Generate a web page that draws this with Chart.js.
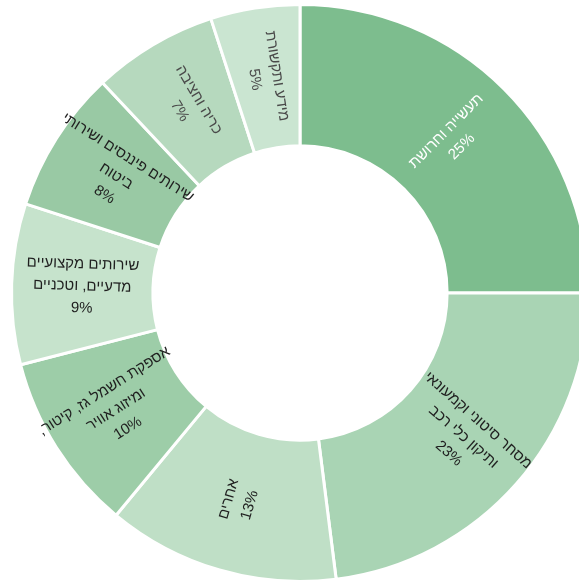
<!DOCTYPE html>
<html lang="he">
<head>
<meta charset="utf-8">
<script src="https://cdn.jsdelivr.net/npm/chart.js@4/dist/chart.umd.min.js"></script>
<style>
  html, body { margin: 0; padding: 0; background: #fff; overflow: hidden; }
  #wrap { width: 579px; height: 583px; overflow: hidden; position: relative; }
  canvas { display: block; }
</style>
</head>
<body>
<div id="wrap"><canvas id="chart-sectors" width="600" height="586"></canvas></div>
<script>
// Sector names, each split into the lines printed on the ring
const sectorLines = [
  ['תעשייה וחרושת'],
  ['מסחר סיטוני וקמעונאי', 'ותיקון כלי רכב'],
  ['אחרים'],
  ['אספקת חשמל גז, קיטור,', 'ומיזוג אוויר'],
  ['שירותים מקצועיים', 'מדעיים, וטכניים'],
  ['שירותים פיננסים ושירותי', 'ביטוח'],
  ['כריה וחציבה'],
  ['מידע ותקשורת'],
];
const sectorShare = [25, 23, 13, 10, 9, 8, 7, 5];
const sectorColors = ['#7dbd8e', '#a9d4b4', '#bfdfc6', '#9dcda8', '#c6e3cc', '#99c9a4', '#b6d9be', '#cae5d1'];
const labelColors = ['#ffffff', '#1f1f1f', '#1f1f1f', '#1f1f1f', '#1f1f1f', '#1f1f1f', '#4a4a4a', '#4a4a4a'];

const FONT = "15px 'Liberation Sans', Arial, 'DejaVu Sans', sans-serif";
const LINE_H = 22;

// Labels sit at mid-ring, rotated along the radius and kept upright
const radialLabels = {
  id: 'radialLabels',
  afterDatasetsDraw(chart) {
    const { ctx } = chart;
    const meta = chart.getDatasetMeta(0);
    meta.data.forEach((arc, i) => {
      const { x, y, startAngle, endAngle, innerRadius, outerRadius } = arc.getProps(
        ['x', 'y', 'startAngle', 'endAngle', 'innerRadius', 'outerRadius'], true);
      const mid = (startAngle + endAngle) / 2;
      const r = (innerRadius + outerRadius) / 2;
      const px = x + Math.cos(mid) * r;
      const py = y + Math.sin(mid) * r;
      let rot = mid;
      while (rot > Math.PI) rot -= 2 * Math.PI;
      while (rot < -Math.PI) rot += 2 * Math.PI;
      if (rot > Math.PI / 2) rot -= Math.PI;
      if (rot < -Math.PI / 2) rot += Math.PI;

      const lines = [...sectorLines[i], sectorShare[i] + '%'];
      ctx.save();
      ctx.translate(px, py);
      ctx.rotate(rot);
      ctx.font = FONT;
      ctx.fillStyle = labelColors[i];
      ctx.textAlign = 'center';
      ctx.textBaseline = 'middle';
      ctx.direction = 'rtl';
      lines.forEach((line, k) => {
        ctx.fillText(line, 0, (k - (lines.length - 1) / 2) * LINE_H);
      });
      ctx.restore();
    });
  },
};

new Chart(document.getElementById('chart-sectors').getContext('2d'), {
  type: 'doughnut',
  data: {
    labels: sectorLines.map(l => l.join(' ')),
    datasets: [{
      data: sectorShare,
      backgroundColor: sectorColors,
      borderColor: '#ffffff',
      borderWidth: 3,
    }],
  },
  options: {
    responsive: false,
    animation: false,
    cutout: '51%',
    layout: { padding: { top: 3, bottom: 3 } },
    plugins: {
      legend: { display: false },
      tooltip: { enabled: false },
    },
  },
  plugins: [radialLabels],
});
</script>
</body>
</html>
